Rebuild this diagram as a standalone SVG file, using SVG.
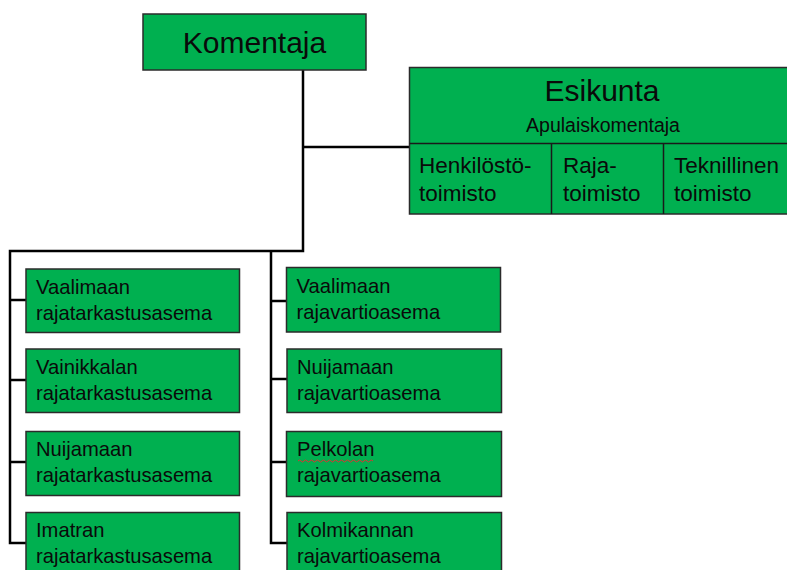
<svg xmlns="http://www.w3.org/2000/svg" width="787" height="570" viewBox="0 0 787 570">
<style>
.box{fill:#00B050;stroke:#2b2b2b;stroke-width:1.5}
.div{stroke:#1a1a1a;stroke-width:1.5;fill:none}
.conn{stroke:#000;stroke-width:2.5;fill:none;stroke-linejoin:miter}
text{font-family:"Liberation Sans",Arial,sans-serif;fill:#0a0a0a}
.t1{font-size:30px}
.t2{font-size:19.5px}
.t3{font-size:22.5px}
.t4{font-size:20.2px}
</style>
<rect width="787" height="570" fill="#fff"/>
<g id="connectors">
<path class="conn" d="M303 70 V251 H10 V543 H26"/>
<path class="conn" d="M303 147 H410"/>
<path class="conn" d="M10 300 H26 M10 380 H26 M10 462 H26"/>
<path class="conn" d="M271 251 V543 H287 M271 301 H287 M271 379 H287 M271 462 H287"/>
</g>
<g id="komentaja">
<rect class="box" x="143" y="14" width="223" height="56"/>
<text class="t1" x="254.5" y="52.5" text-anchor="middle">Komentaja</text>
</g>
<g id="esikunta">
<rect class="box" x="409.5" y="67.5" width="380" height="146.5"/>
<path class="div" d="M409.5 143.5 H790 M551.5 143.5 V214 M663.5 143.5 V214"/>
<text class="t1" x="602" y="100.5" text-anchor="middle">Esikunta</text>
<text class="t2" x="603" y="131.5" text-anchor="middle">Apulaiskomentaja</text>
<text class="t3" x="419" y="173">Henkilöstö-</text>
<text class="t3" x="419" y="201">toimisto</text>
<text class="t3" x="563" y="173">Raja-</text>
<text class="t3" x="563" y="201">toimisto</text>
<text class="t3" x="674" y="173">Teknillinen</text>
<text class="t3" x="674" y="201">toimisto</text>
</g>
<g id="vaalimaan-rta">
<rect class="box" x="26" y="269" width="213.5" height="63.5"/>
<text class="t4" x="36" y="293.5">Vaalimaan</text>
<text class="t4" x="36" y="319.5">rajatarkastusasema</text>
</g>
<g id="vainikkalan-rta">
<rect class="box" x="26" y="349" width="213.5" height="63.5"/>
<text class="t4" x="36" y="373.5">Vainikkalan</text>
<text class="t4" x="36" y="399.5">rajatarkastusasema</text>
</g>
<g id="nuijamaan-rta">
<rect class="box" x="26" y="431.5" width="213.5" height="64"/>
<text class="t4" x="36" y="456">Nuijamaan</text>
<text class="t4" x="36" y="482">rajatarkastusasema</text>
</g>
<g id="imatran-rta">
<rect class="box" x="26" y="512.5" width="213.5" height="64"/>
<text class="t4" x="36" y="537">Imatran</text>
<text class="t4" x="36" y="563">rajatarkastusasema</text>
</g>
<g id="vaalimaan-rva">
<rect class="box" x="286.5" y="267.5" width="214" height="64.5"/>
<text class="t4" x="296.5" y="293">Vaalimaan</text>
<text class="t4" x="296.5" y="319">rajavartioasema</text>
</g>
<g id="nuijamaan-rva">
<rect class="box" x="287" y="349" width="214.5" height="63.5"/>
<text class="t4" x="297" y="373.5">Nuijamaan</text>
<text class="t4" x="297" y="399.5">rajavartioasema</text>
</g>
<g id="pelkolan-rva">
<rect class="box" x="286.5" y="431.5" width="215" height="65"/>
<text class="t4" x="297" y="456">Pelkolan</text>
<path d="M298 461 q1.5 -2 3 0 t3 0 t3 0 t3 0 t3 0 t3 0 t3 0 t3 0 t3 0 t3 0 t3 0 t3 0 t3 0 t3 0 t3 0 t3 0 t3 0 t3 0 t3 0 t3 0 t3 0 t3 0 t3 0 t3 0 t3 0" fill="none" stroke="#e03030" stroke-width="1"/>
<text class="t4" x="297" y="482">rajavartioasema</text>
</g>
<g id="kolmikannan-rva">
<rect class="box" x="287" y="512.5" width="214.5" height="64"/>
<text class="t4" x="297" y="537">Kolmikannan</text>
<text class="t4" x="297" y="563">rajavartioasema</text>
</g>
</svg>
